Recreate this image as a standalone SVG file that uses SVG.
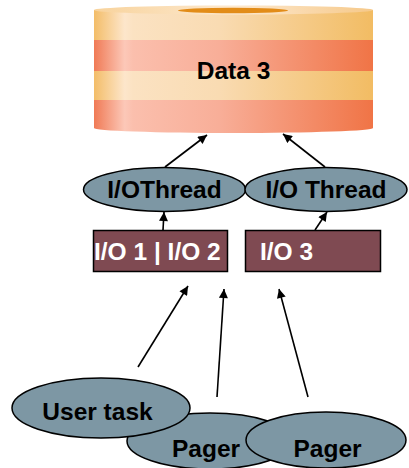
<svg xmlns="http://www.w3.org/2000/svg" width="409" height="468" viewBox="0 0 409 468">
<style>
.ell{fill:#7d97a4;stroke:#000;stroke-width:1.5}
.box{fill:#7f4a52;stroke:#000;stroke-width:1.5}
.t{font-family:"Liberation Sans",Arial,sans-serif;font-weight:bold;font-size:24.5px;fill:#000}
.tw{font-family:"Liberation Sans",Arial,sans-serif;font-weight:bold;font-size:24.5px;fill:#fff}
.c{text-anchor:middle}
.arr{stroke:#000;stroke-width:1.6;fill:none;marker-end:url(#ah)}
</style>
<defs>
<marker id="ah" viewBox="0 0 10 10" refX="10" refY="5" markerWidth="11" markerHeight="9" markerUnits="userSpaceOnUse" orient="auto">
<path d="M0,0 L10,5 L0,10 z" fill="#000"/>
</marker>
<linearGradient id="gy" x1="94" x2="373" y1="0" y2="0" gradientUnits="userSpaceOnUse">
<stop offset="0" stop-color="#f3bd68"/>
<stop offset="0.11" stop-color="#fde6cb"/>
<stop offset="0.14" stop-color="#fbe2c2"/>
<stop offset="0.45" stop-color="#f9dbb2"/>
<stop offset="1" stop-color="#f2bc63"/>
</linearGradient>
<linearGradient id="gs" x1="94" x2="373" y1="0" y2="0" gradientUnits="userSpaceOnUse">
<stop offset="0" stop-color="#f07a55"/>
<stop offset="0.11" stop-color="#fcc8b8"/>
<stop offset="0.14" stop-color="#fbbfad"/>
<stop offset="0.45" stop-color="#f8ae98"/>
<stop offset="1" stop-color="#f07446"/>
</linearGradient>
<linearGradient id="gt" x1="94" x2="373" y1="0" y2="0" gradientUnits="userSpaceOnUse">
<stop offset="0" stop-color="#f8d39c"/>
<stop offset="0.5" stop-color="#fde9d0"/>
<stop offset="1" stop-color="#f6c98a"/>
</linearGradient>
<clipPath id="cyl">
<path d="M94,10 L94,128 A139.5,5 0 0 0 373,128 L373,10 Z"/>
</clipPath>
</defs>

<g id="data3">
<g clip-path="url(#cyl)">
<rect x="94" y="5" width="279" height="35" fill="url(#gy)"/>
<rect x="94" y="40" width="279" height="31" fill="url(#gs)"/>
<rect x="94" y="71" width="279" height="29" fill="url(#gy)"/>
<rect x="94" y="100" width="279" height="35" fill="url(#gs)"/>
</g>
<ellipse cx="233.5" cy="10" rx="139.5" ry="4.5" fill="url(#gt)"/>
<ellipse cx="233" cy="10.5" rx="55" ry="2.8" fill="#e28c18"/>
<text class="t c" x="233.5" y="79">Data 3</text>
</g>

<g id="iothread1">
<ellipse class="ell" cx="164.5" cy="189.5" rx="81" ry="22"/>
<text class="t c" x="164.5" y="198">I/OThread</text>
</g>
<g id="iothread2">
<ellipse class="ell" cx="326" cy="189.5" rx="81" ry="22"/>
<text class="t c" x="326" y="198">I/O Thread</text>
</g>

<g id="io12">
<rect class="box" x="93.5" y="230.5" width="134" height="41"/>
<text class="tw" x="94" y="260">I/O 1 | I/O 2</text>
</g>
<g id="io3">
<rect class="box" x="245.5" y="230.5" width="135" height="41"/>
<text class="tw" x="260" y="260">I/O 3</text>
</g>

<g id="pager1">
<ellipse class="ell" cx="210" cy="441" rx="83" ry="28"/>
<text class="t c" x="206" y="457">Pager</text>
</g>
<g id="usertask">
<ellipse class="ell" cx="101" cy="408" rx="89" ry="30"/>
<text class="t c" x="97.5" y="420">User task</text>
</g>
<g id="pager2">
<ellipse class="ell" cx="326" cy="440" rx="80" ry="28"/>
<text class="t c" x="327.5" y="457">Pager</text>
</g>

<g id="connectors">
<line class="arr" x1="138" y1="367" x2="188" y2="286"/>
<line class="arr" x1="217" y1="397" x2="224" y2="289"/>
<line class="arr" x1="308" y1="397" x2="279" y2="289"/>
<line class="arr" x1="163" y1="230" x2="164" y2="212"/>
<line class="arr" x1="315" y1="230" x2="327" y2="212"/>
<line class="arr" x1="165" y1="167" x2="207" y2="135"/>
<line class="arr" x1="325" y1="167" x2="283" y2="134"/>
</g>
</svg>
